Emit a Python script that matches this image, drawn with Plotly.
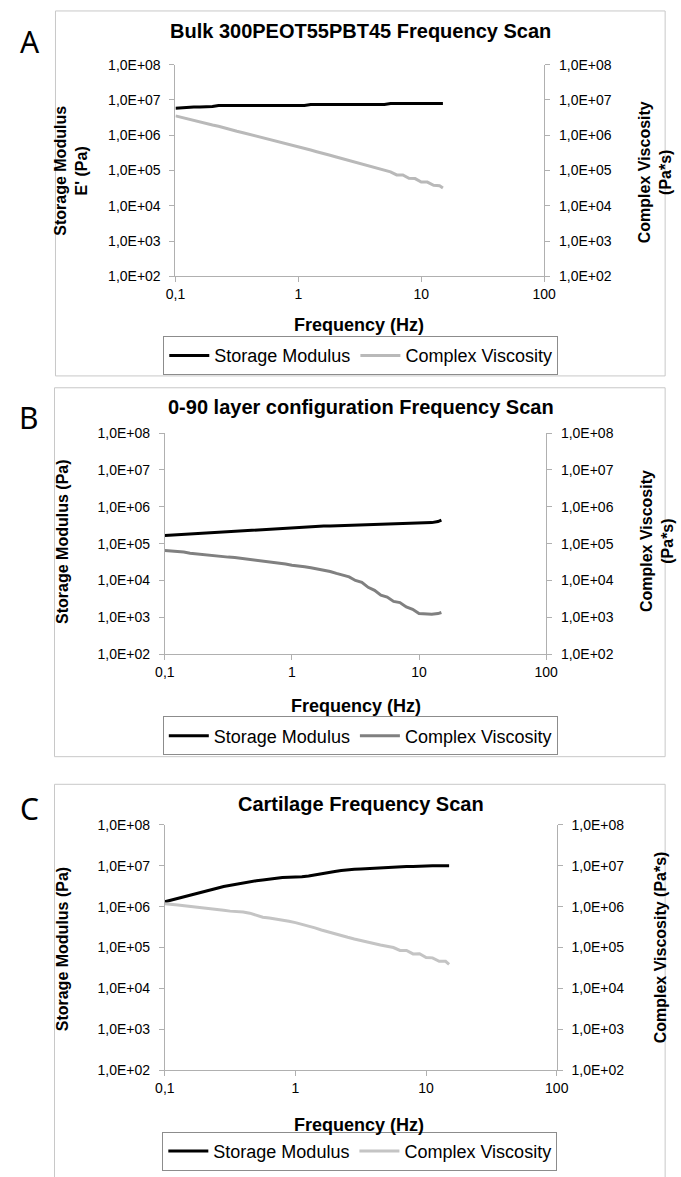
import plotly.graph_objects as go

W, H = 681, 1177

# ---------------- data ----------------
FREQ = [0.1, 0.112, 0.126, 0.141, 0.158, 0.178, 0.2, 0.224, 0.251, 0.282,
        0.316, 0.355, 0.398, 0.447, 0.501, 0.562, 0.631, 0.708, 0.794, 0.891,
        1.0, 1.12, 1.26, 1.41, 1.58, 1.78, 2.0, 2.24, 2.51, 2.82,
        3.16, 3.55, 3.98, 4.47, 5.01, 5.62, 6.31, 7.08, 7.94, 8.91,
        10.0, 11.2, 12.6, 14.1, 15.0]

A_STORAGE = [5.8e6, 6.0e6, 6.3e6, 6.3e6, 6.3e6, 6.4e6, 6.5e6, 7.0e6, 7.0e6, 7.0e6,
             7.0e6, 7.0e6, 7.0e6, 7.0e6, 7.0e6, 7.0e6, 7.0e6, 7.0e6, 7.0e6, 7.0e6,
             7.0e6, 7.0e6, 7.4e6, 7.4e6, 7.4e6, 7.4e6, 7.4e6, 7.4e6, 7.4e6, 7.4e6,
             7.4e6, 7.4e6, 7.4e6, 7.4e6, 7.4e6, 7.9e6, 7.9e6, 7.9e6, 7.9e6, 7.9e6,
             7.9e6, 7.9e6, 7.9e6, 7.9e6, 8.0e6]
A_VISCOSITY = [3.55e6, 3.2e6, 2.9e6, 2.6e6, 2.4e6, 2.15e6, 1.95e6, 1.8e6, 1.6e6, 1.45e6,
               1.3e6, 1.18e6, 1.07e6, 9.6e5, 8.7e5, 7.9e5, 7.1e5, 6.5e5, 5.9e5, 5.3e5,
               4.8e5, 4.3e5, 3.8e5, 3.4e5, 3.0e5, 2.75e5, 2.45e5, 2.2e5, 1.95e5, 1.74e5,
               1.55e5, 1.38e5, 1.23e5, 1.1e5, 9.8e4, 9.2e4, 7.5e4, 7.5e4, 6.0e4, 5.9e4,
               4.7e4, 4.7e4, 3.8e4, 3.7e4, 3.2e4]

B_STORAGE = [1.66e5, 1.70e5, 1.74e5, 1.78e5, 1.82e5, 1.88e5, 1.95e5, 2.0e5, 2.04e5, 2.09e5,
             2.14e5, 2.19e5, 2.24e5, 2.29e5, 2.34e5, 2.40e5, 2.45e5, 2.54e5, 2.63e5, 2.69e5,
             2.75e5, 2.82e5, 2.88e5, 2.92e5, 2.95e5, 2.99e5, 3.02e5, 3.05e5, 3.09e5, 3.13e5,
             3.16e5, 3.24e5, 3.31e5, 3.35e5, 3.39e5, 3.43e5, 3.47e5, 3.51e5, 3.55e5, 3.59e5,
             3.63e5, 3.67e5, 3.72e5, 3.98e5, 4.37e5]
B_VISCOSITY = [6.5e4, 6.3e4, 6.2e4, 5.9e4, 5.5e4, 5.25e4, 5.0e4, 4.8e4, 4.7e4, 4.5e4,
               4.3e4, 4.2e4, 4.0e4, 3.8e4, 3.65e4, 3.5e4, 3.3e4, 3.15e4, 2.95e4, 2.8e4,
               2.6e4, 2.5e4, 2.35e4, 2.2e4, 2.05e4, 1.9e4, 1.75e4, 1.55e4, 1.38e4, 1.25e4,
               1.0e4, 8.9e3, 6.5e3, 5.4e3, 4.0e3, 3.55e3, 2.7e3, 2.5e3, 1.9e3, 1.65e3,
               1.26e3, 1.22e3, 1.21e3, 1.26e3, 1.35e3]

C_STORAGE = [1.32e6, 1.45e6, 1.62e6, 1.78e6, 2.0e6, 2.19e6, 2.4e6, 2.63e6, 2.82e6, 3.09e6,
             3.31e6, 3.55e6, 3.8e6, 3.98e6, 4.27e6, 4.47e6, 4.68e6, 5.0e6, 5.13e6, 5.25e6,
             5.25e6, 5.37e6, 5.62e6, 6.03e6, 6.46e6, 6.92e6, 7.24e6, 7.59e6, 7.94e6, 8.13e6,
             8.32e6, 8.51e6, 8.71e6, 8.91e6, 9.12e6, 9.33e6, 9.33e6, 9.55e6, 9.55e6, 9.77e6,
             1.0e7, 1.0e7, 1.0e7, 1.0e7, 1.0e7]
C_VISCOSITY = [1.17e6, 1.15e6, 1.10e6, 1.05e6, 1.0e6, 9.55e5, 9.33e5, 8.91e5, 8.51e5, 8.13e5,
               7.76e5, 7.59e5, 7.41e5, 6.92e5, 6.17e5, 5.5e5, 5.25e5, 5.0e5, 4.68e5, 4.37e5,
               4.07e5, 3.72e5, 3.39e5, 3.02e5, 2.69e5, 2.4e5, 2.14e5, 1.95e5, 1.78e5, 1.62e5,
               1.51e5, 1.38e5, 1.26e5, 1.15e5, 1.05e5, 1.0e5, 8.5e4, 8.5e4, 7.0e4, 7.1e4,
               5.7e4, 5.6e4, 4.6e4, 4.6e4, 3.9e4]

X_TICKVALS = [0.1, 1, 10, 100]
X_TICKTEXT = ["0,1", "1", "10", "100"]
Y_TICKVALS = [1e2, 1e3, 1e4, 1e5, 1e6, 1e7, 1e8]
Y_TICKTEXT = ["1,0E+02", "1,0E+03", "1,0E+04", "1,0E+05", "1,0E+06", "1,0E+07", "1,0E+08"]

SERIES_NAMES = ["Storage Modulus", "Complex Viscosity"]
PANEL_LETTERS = ["A", "B", "C"]
PANEL_TITLES = ["Bulk 300PEOT55PBT45 Frequency Scan",
                "0-90 layer configuration Frequency Scan",
                "Cartilage Frequency Scan"]
LEFT_TITLES = ["Storage Modulus<br>E' (Pa)", "Storage Modulus (Pa)", "Storage Modulus (Pa)"]
RIGHT_TITLES = ["Complex Viscosity<br>(Pa*s)", "Complex Viscosity<br>(Pa*s)", "Complex Viscosity (Pa*s)"]
X_TITLE = "Frequency (Hz)"

# ---------------- layout geometry (pixels) ----------------
FONT = "Liberation Sans, Arial, sans-serif"
AXIS_GRAY = "#b0b0b0"
panels = [
    dict(storage=A_STORAGE, visc=A_VISCOSITY, visc_color="#b9b9b9",
         plot=(171, 552, 57.5, 272), box=(47, 677, 3, 373),
         letter=(21, 34), title=(362, 23), xtitle=(361, 321),
         ltitle=(63, 165), rtitle=(666, 166), legend=(362.5, 352.5)),
    dict(storage=B_STORAGE, visc=B_VISCOSITY, visc_color="#808080",
         plot=(160, 554, 431, 655), box=(46, 677, 385, 759),
         letter=(20, 415), title=(363, 405), xtitle=(358, 708),
         ltitle=(54, 541), rtitle=(668, 540), legend=(362, 738)),
    dict(storage=C_STORAGE, visc=C_VISCOSITY, visc_color="#c4c4c4",
         plot=(160, 565, 828, 1077), box=(46, 677, 787, 1190),
         letter=(20, 812), title=(363, 807), xtitle=(361, 1132),
         ltitle=(54, 954), rtitle=(672, 952), legend=(361.5, 1159)),
]


def pxx(x):
    return x / W


def pyy(y):
    return 1 - y / H


fig = go.Figure()
layout = dict(width=W, height=H, margin=dict(l=0, r=0, t=0, b=0),
              paper_bgcolor="white", plot_bgcolor="white",
              font=dict(family=FONT, color="black"),
              showlegend=True)
annotations = []
shapes = []

for i, p in enumerate(panels):
    n = i + 1
    xname = "x" if n == 1 else f"x{n}"
    yl_idx = 2 * i + 1
    yr_idx = 2 * i + 2
    yl = "y" if yl_idx == 1 else f"y{yl_idx}"
    yr = f"y{yr_idx}"
    legname = "legend" if n == 1 else f"legend{n}"
    x0, x1, y0, y1 = p["plot"]

    fig.add_trace(go.Scatter(x=FREQ, y=p["storage"], mode="lines", name=SERIES_NAMES[0],
                             line=dict(color="black", width=3), xaxis=xname, yaxis=yl,
                             legend=legname))
    fig.add_trace(go.Scatter(x=FREQ, y=p["visc"], mode="lines", name=SERIES_NAMES[1],
                             line=dict(color=p["visc_color"], width=3), xaxis=xname, yaxis=yr,
                             legend=legname))

    xkey = "xaxis" if n == 1 else f"xaxis{n}"
    ylkey = "yaxis" if yl_idx == 1 else f"yaxis{yl_idx}"
    yrkey = f"yaxis{yr_idx}"
    common_y = dict(type="log", range=[2, 8], tickvals=Y_TICKVALS, ticktext=Y_TICKTEXT,
                    showgrid=False, zeroline=False, showline=True, linecolor=AXIS_GRAY,
                    linewidth=1, ticks="outside", ticklen=5, tickcolor=AXIS_GRAY,
                    tickfont=dict(size=14, family=FONT, color="black"),
                    ticklabelstandoff=6, fixedrange=True)
    layout[xkey] = dict(domain=[pxx(x0), pxx(x1)], anchor=yl, type="log", range=[-1, 2],
                        tickvals=X_TICKVALS, ticktext=X_TICKTEXT, showgrid=False,
                        zeroline=False, showline=True, linecolor=AXIS_GRAY, linewidth=1,
                        ticks="outside", ticklen=5, tickcolor=AXIS_GRAY,
                        tickfont=dict(size=14, family=FONT, color="black"),
                        ticklabelstandoff=0, fixedrange=True)
    layout[ylkey] = dict(domain=[pyy(y1), pyy(y0)], anchor=xname, side="left", **common_y)
    layout[yrkey] = dict(overlaying=yl, anchor=xname, side="right", **common_y)

    lx, ly = p["legend"]
    layout[legname] = dict(orientation="h", x=pxx(lx), y=pyy(ly), xanchor="center",
                           yanchor="middle", bordercolor="#8c8c8c", borderwidth=1,
                           bgcolor="white", font=dict(size=18, family=FONT, color="black"),
                           itemwidth=40, tracegroupgap=0,
                           itemclick=False, itemdoubleclick=False)

    bx0, bx1, by0, by1 = p["box"]
    shapes.append(dict(type="rect", xref="paper", yref="paper", x0=pxx(bx0), x1=pxx(bx1),
                       y0=pyy(by1), y1=pyy(by0), line=dict(color="#c8c8c8", width=1),
                       layer="below"))

    def ann(text, pos, size, bold=False, angle=0, family=FONT):
        annotations.append(dict(text=f"<b>{text}</b>" if bold else text,
                                x=pxx(pos[0]), y=pyy(pos[1]), xref="paper", yref="paper",
                                xanchor="center", yanchor="middle", showarrow=False,
                                textangle=angle,
                                font=dict(size=size, family=family, color="black")))

    ann(PANEL_LETTERS[i], p["letter"], 30, family="Noto Sans, DejaVu Sans, sans-serif")
    ann(PANEL_TITLES[i], p["title"], 20, bold=True)
    ann(X_TITLE, p["xtitle"], 18, bold=True)
    ann(LEFT_TITLES[i], p["ltitle"], 16, bold=True, angle=-90)
    ann(RIGHT_TITLES[i], p["rtitle"], 16, bold=True, angle=-90)

layout["annotations"] = annotations
layout["shapes"] = shapes
fig.update_layout(**layout)
fig.write_html("out.html")
